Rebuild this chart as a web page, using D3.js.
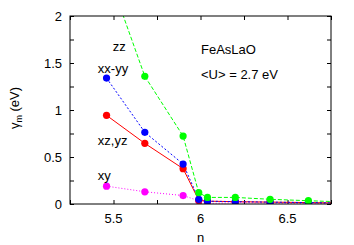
<!DOCTYPE html>
<html>
<head>
<meta charset="utf-8">
<script src="https://cdn.jsdelivr.net/npm/d3@7"></script>
<style>
  body { margin: 0; background: #fff; }
  text { font-family: "Liberation Sans", Arial, sans-serif; font-size: 13px; fill: #000; }
</style>
</head>
<body>
<div id="vis"></div>
<script>
var width = 354;
var height = 245;

// data
var nValues = [5.46, 5.68, 5.90, 5.99, 6.04, 6.20, 6.40, 6.62, 6.85];
var zz   = [2.5, 1.358, 0.723, 0.12, 0.07, 0.07, 0.05, 0.035, 0.02];
var xxyy = [1.34, 0.763, 0.425, 0.05, 0.03, 0.025, 0.02, 0.015, 0.01];
var xzyz = [0.943, 0.645, 0.376, 0.04, 0.03, 0.025, 0.02, 0.015, 0.01];
var xy   = [0.19, 0.13, 0.09, 0.035, 0.005, 0.015, 0.01, 0.005, 0.003];

var xTicks = [5.5, 6, 6.5];
var yTicks = [0, 0.5, 1, 1.5, 2];

var series = [
  { name: "xy", values: xy, color: "#ff00ff", dash: "1,2" },
  { name: "xz,yz", values: xzyz, color: "#ff0000", dash: null },
  { name: "xx-yy", values: xxyy, color: "#0000ff", dash: "2,2" },
  { name: "zz", values: zz, color: "#00ff00", dash: "4,2" }
];

var labels = [
  { text: "zz", n: 5.495, v: 1.68 },
  { text: "xx-yy", n: 5.41, v: 1.45 },
  { text: "xz,yz", n: 5.41, v: 0.68 },
  { text: "xy", n: 5.41, v: 0.31 }
];

var margin = { top: 16, right: 23, bottom: 41, left: 70 };
var w = width - margin.left - margin.right;
var h = height - margin.top - margin.bottom;

var svg = d3.select("#vis").append("svg")
  .attr("width", width)
  .attr("height", height);

var x = d3.scaleLinear().domain([5.25, 6.75]).range([0, w]);
var y = d3.scaleLinear().domain([0, 2]).range([h, 0]);

var g = svg.append("g")
  .attr("transform", "translate(" + margin.left + "," + margin.top + ")");

g.append("clipPath").attr("id", "clip")
  .append("rect").attr("width", w).attr("height", h);

// axes: ticks inward on all four sides
var minorX = d3.range(5.25, 6.76, 0.25);
var minorY = d3.range(0, 2.01, 0.25);

g.append("g").attr("transform", "translate(0," + h + ")")
  .call(d3.axisBottom(x).tickValues(minorX).tickSize(-4).tickFormat(""));
g.append("g")
  .call(d3.axisTop(x).tickValues(minorX).tickSize(-4).tickFormat(""));
g.append("g")
  .call(d3.axisLeft(y).tickValues(minorY).tickSize(-4).tickFormat(""));
g.append("g").attr("transform", "translate(" + w + ",0)")
  .call(d3.axisRight(y).tickValues(minorY).tickSize(-4).tickFormat(""));
g.selectAll(".domain").remove();
g.selectAll(".tick line").attr("stroke", "#000");

g.selectAll(".xlab").data(xTicks).enter().append("text")
  .attr("x", function(d) { return x(d); })
  .attr("y", h + 19)
  .attr("text-anchor", "middle")
  .text(function(d) { return d; });

g.selectAll(".ylab").data(yTicks).enter().append("text")
  .attr("x", -8)
  .attr("y", function(d) { return y(d) + 5; })
  .attr("text-anchor", "end")
  .text(function(d) { return d; });

var plot = g.append("g").attr("clip-path", "url(#clip)");

var line = d3.line()
  .x(function(d, i) { return x(nValues[i]); })
  .y(function(d) { return y(d); });

series.forEach(function(s) {
  plot.append("path")
    .datum(s.values)
    .attr("d", line)
    .attr("fill", "none")
    .attr("stroke", s.color)
    .attr("stroke-width", 1)
    .attr("stroke-dasharray", s.dash);
});

series.forEach(function(s) {
  plot.selectAll(null)
    .data(s.values.slice(0, 8))
    .enter()
    .append("circle")
    .attr("cx", function(d, i) { return x(nValues[i]); })
    .attr("cy", function(d) { return y(d); })
    .attr("r", 3.6)
    .attr("fill", s.color);
});

g.append("rect")
  .attr("width", w).attr("height", h)
  .attr("fill", "none").attr("stroke", "#000").attr("stroke-width", 1);

labels.forEach(function(l) {
  g.append("text")
    .attr("x", x(l.n)).attr("y", y(l.v) + 5)
    .text(l.text);
});

g.append("text").attr("x", 131).attr("y", 38).text("FeAsLaO");
g.append("text").attr("x", 131).attr("y", 63).text("<U> = 2.7 eV");

svg.append("text")
  .attr("x", margin.left + x(6)).attr("y", 242)
  .attr("text-anchor", "middle")
  .text("n");

var yl = svg.append("text")
  .attr("transform", "translate(19,108) rotate(-90)")
  .attr("text-anchor", "middle");
yl.append("tspan").text("\u03b3");
yl.append("tspan").attr("font-size", "9px").attr("dy", 3).text("m");
yl.append("tspan").attr("dy", -3).text(" (eV)");
</script>
</body>
</html>
